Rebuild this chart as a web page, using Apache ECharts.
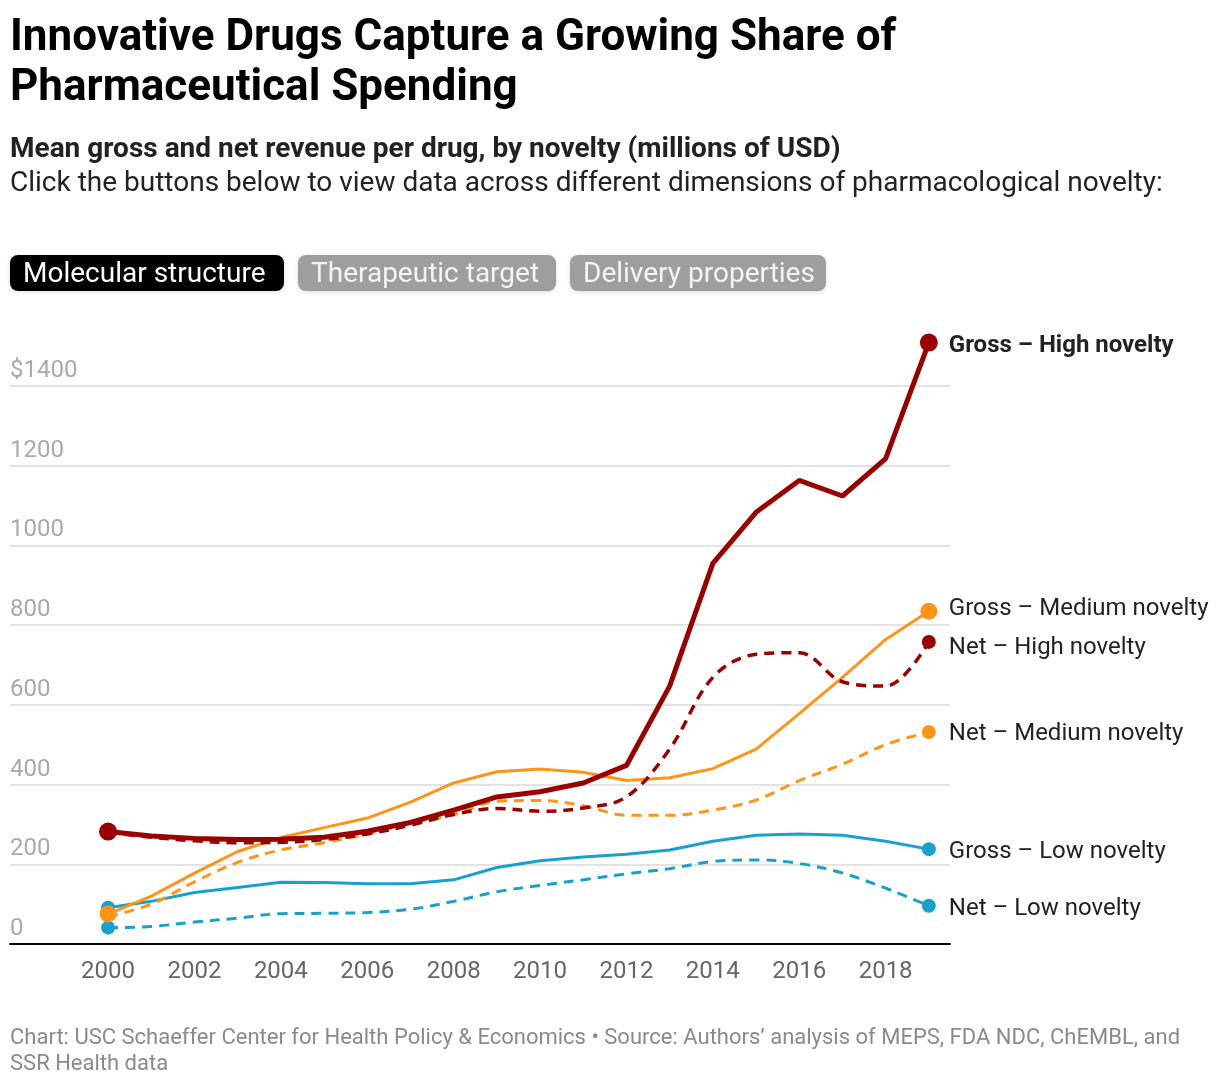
<!DOCTYPE html>
<html><head><meta charset="utf-8">
<script src="https://cdn.jsdelivr.net/npm/echarts@6/dist/echarts.min.js"></script>
<style>html,body{margin:0;padding:0;background:#fff}#c{width:1220px;height:1086px}</style>
</head><body><div id="c"></div>
<script>
const years = [2000,2001,2002,2003,2004,2005,2006,2007,2008,2009,2010,2011,2012,2013,2014,2015,2016,2017,2018,2019];
const grossHigh = [282,271,265,262,263,268,283,305,336,369,382,404,448,647,955,1083,1163,1124,1218,1509];
const netHigh = [280,268,259,254,255,262,276,298,325,340,333,341,369,489,669,727,731,658,647,758];
const grossMedium = [75,120,178,232,267,292,316,356,404,432,439,431,410,417,440,489,578,669,764,835];
const netMedium = [68,100,156,205,236,254,276,303,325,358,360,347,323,323,336,361,410,451,500,532];
const grossLow = [91,107,129,142,155,154,151,151,161,192,209,218,225,236,258,273,276,273,258,238];
const netLow = [41,44,55,65,76,77,79,87,107,131,147,161,176,189,207,211,202,178,140,96];
const xTicks = [2000,2002,2004,2006,2008,2010,2012,2014,2016,2018];
const yTickLabels = {0:'0',200:'200',400:'400',600:'600',800:'800',1000:'1000',1200:'1200',1400:'$1400'};
const buttons = ['Molecular structure','Therapeutic target','Delivery properties'];

const FONT = 'Roboto';
const RED = '#990000', ORANGE = '#ff9417', BLUE = '#18a1cd';

function mk(name, arr, color, width, dashed, dot, startDot, labelOffset, bold, smooth, z) {
  const last = arr.length - 1;
  return {
    name, type: 'line', z, clip: false, smooth: smooth,
    symbol: 'none',
    data: arr.map((v, i) => {
      const item = { value: [years[i], v] };
      if ((i === 0 && startDot) || i === last) {
        item.symbol = 'circle';
        item.symbolSize = dot;
      }
      return item;
    }),
    itemStyle: { color },
    lineStyle: { color, width, type: dashed ? [10, 7] : 'solid', cap: 'butt' },
    endLabel: {
      show: true, formatter: name, distance: 20, offset: labelOffset,
      fontFamily: FONT, fontSize: 24, color: '#222', fontWeight: bold ? 'bold' : 'normal'
    },
    emphasis: { disabled: true },
    animation: false
  };
}

const chart = echarts.init(document.getElementById('c'));
const graphics = [];
const btnX = [10, 298, 570], btnW = [274, 258, 256];
buttons.forEach((b, i) => {
  graphics.push({
    type: 'rect', left: btnX[i], top: 255, shape: { width: btnW[i], height: 36, r: 8 },
    style: { fill: i === 0 ? '#000' : '#9e9e9e', shadowBlur: 4, shadowColor: 'rgba(0,0,0,0.15)', shadowOffsetY: 1 }
  });
  graphics.push({
    type: 'text', left: btnX[i] + 13, top: 258,
    style: { text: b, fontFamily: FONT, fontSize: 28, fill: i === 0 ? '#fff' : '#f4f4f4', lineHeight: 34 }
  });
});

chart.setOption({
  animation: false,
  textStyle: { fontFamily: FONT },
  title: [
    { text: 'Innovative Drugs Capture a Growing Share of\nPharmaceutical Spending', left: 10, top: 14, padding: 0,
      textStyle: { fontFamily: FONT, fontSize: 44, fontWeight: 'bold', color: '#000', lineHeight: 50 } },
    { text: 'Mean gross and net revenue per drug, by novelty (millions of USD)', left: 10, top: 133, padding: 0,
      textStyle: { fontFamily: FONT, fontSize: 28, fontWeight: 'bold', color: '#222', lineHeight: 34 } },
    { text: 'Click the buttons below to view data across different dimensions of pharmacological novelty:', left: 10, top: 167, padding: 0,
      textStyle: { fontFamily: FONT, fontSize: 28, fontWeight: 'normal', color: '#222', lineHeight: 34 } },
    { text: 'Chart: USC Schaeffer Center for Health Policy & Economics \u2022 Source: Authors\u2019 analysis of MEPS, FDA NDC, ChEMBL, and\nSSR Health data', left: 10, top: 1025, padding: 0,
      textStyle: { fontFamily: FONT, fontSize: 22, fontWeight: 'normal', color: '#8a8a8a', lineHeight: 26 } }
  ],
  graphic: graphics,
  grid: { left: 10, right: 270, top: 386, bottom: 142, containLabel: false },
  xAxis: {
    type: 'value', min: 1997.73, max: 2019.49,
    axisLine: { show: true, lineStyle: { color: '#000', width: 2 } },
    axisTick: { show: false },
    splitLine: { show: false },
    axisLabel: { customValues: xTicks, color: '#666', fontSize: 24, fontFamily: FONT, margin: 16, formatter: v => String(v) }
  },
  yAxis: {
    type: 'value', min: 0, max: 1400, interval: 200,
    axisLine: { show: false }, axisTick: { show: false },
    splitLine: { lineStyle: { color: '#e3e3e3', width: 2 } },
    axisLabel: { inside: true, margin: 0, verticalAlign: 'bottom', padding: [0, 0, 3, 0],
      color: '#aaa', fontSize: 24, fontFamily: FONT, formatter: v => yTickLabels[v] }
  },
  series: [
    mk('Net \u2013 Low novelty', netLow, BLUE, 3, true, 14, true, [0, 3], false, 0.35, 2),
    mk('Gross \u2013 Low novelty', grossLow, BLUE, 3, false, 14, true, [0, 3], false, false, 3),
    mk('Net \u2013 Medium novelty', netMedium, ORANGE, 3, true, 14, false, [0, 2], false, 0.35, 4),
    mk('Gross \u2013 Medium novelty', grossMedium, ORANGE, 3, false, 17, true, [0, -2], false, false, 5),
    mk('Net \u2013 High novelty', netHigh, RED, 3.5, true, 14, false, [0, 6], false, 0.35, 6),
    mk('Gross \u2013 High novelty', grossHigh, RED, 5, false, 18, true, [0, 3], true, false, 7)
  ]
});
</script></body></html>
